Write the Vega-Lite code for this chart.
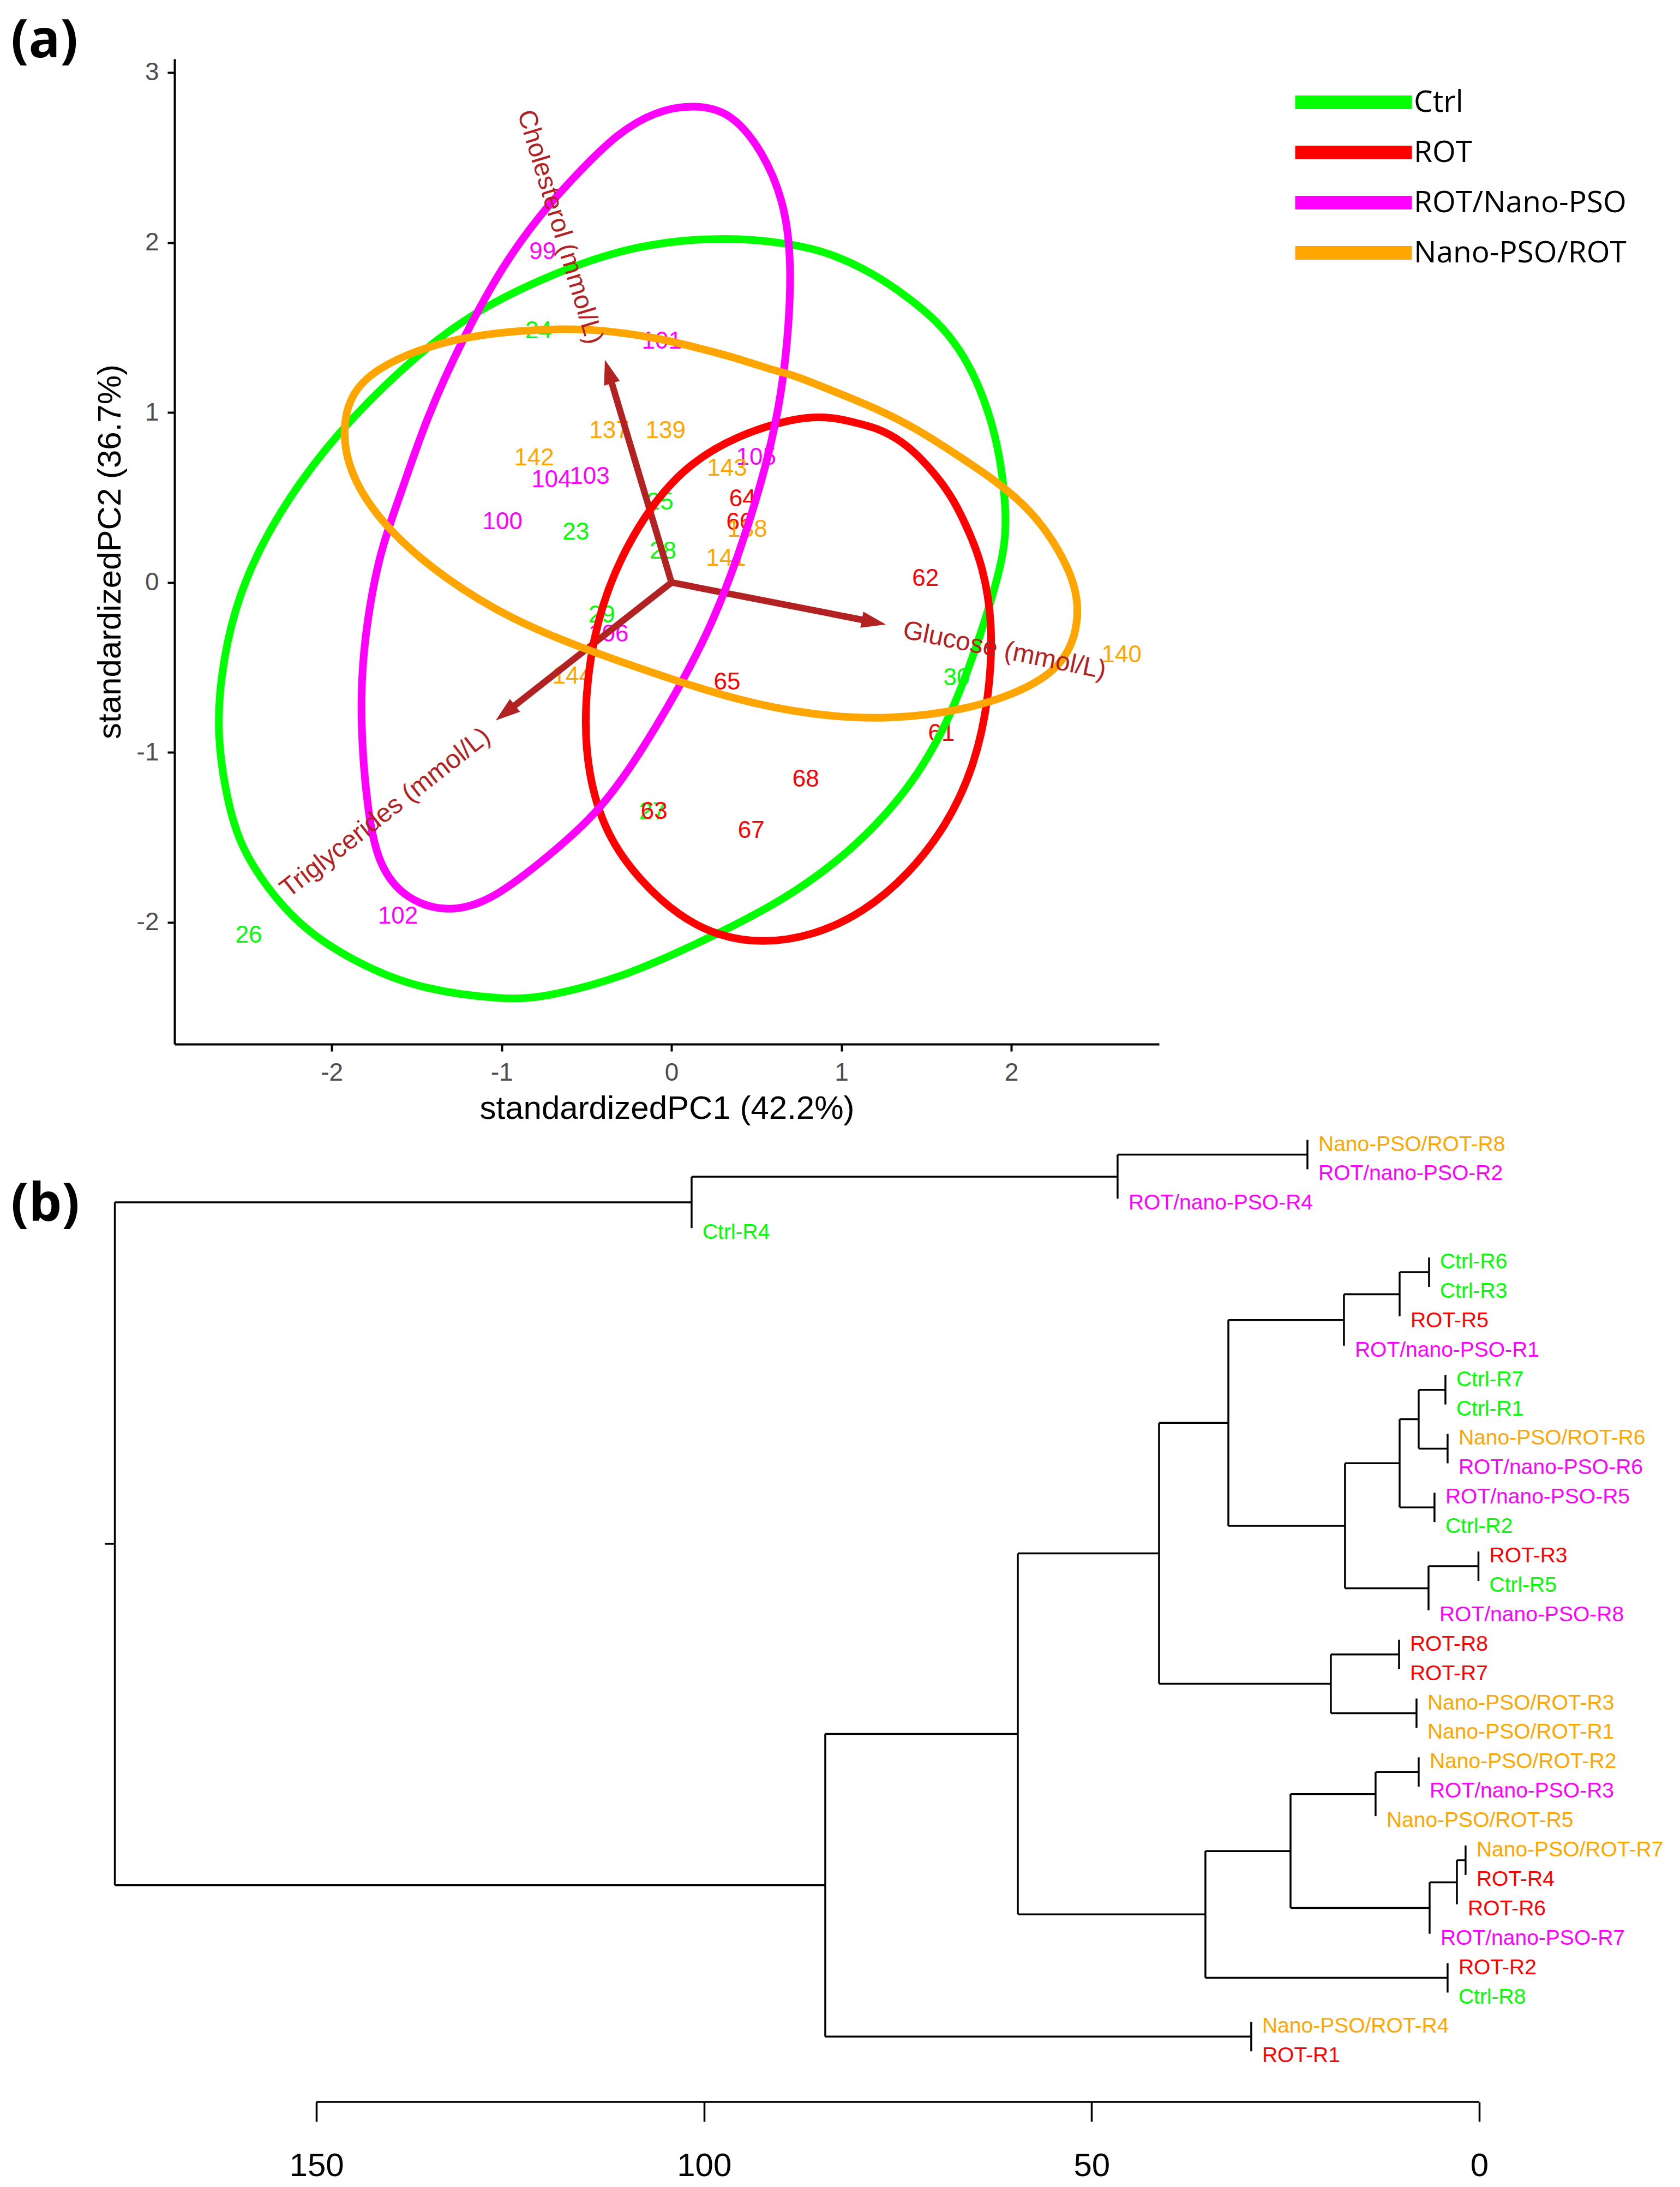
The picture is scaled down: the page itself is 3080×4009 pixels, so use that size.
{
  "$schema": "https://vega.github.io/schema/vega-lite/v6.json",
  "padding": {"left": 20, "top": 28, "right": 0, "bottom": 3},
  "background": "white",
  "config": {"font": "Liberation Sans", "view": {"stroke": null}, "axis": {"grid": false}},
  "spacing": 10,
  "resolve": {"scale": {"color": "independent"}},
  "datasets": {
    "labels": [
      {"g": "ROT/Nano-PSO", "label": "99", "x": -0.759, "y": 1.944},
      {"g": "ROT/Nano-PSO", "label": "100", "x": -0.995, "y": 0.356},
      {"g": "ROT/Nano-PSO", "label": "101", "x": -0.057, "y": 1.416},
      {"g": "ROT/Nano-PSO", "label": "102", "x": -1.61, "y": -1.966},
      {"g": "ROT/Nano-PSO", "label": "103", "x": -0.482, "y": 0.623},
      {"g": "ROT/Nano-PSO", "label": "104", "x": -0.707, "y": 0.603},
      {"g": "ROT/Nano-PSO", "label": "105", "x": 0.498, "y": 0.735},
      {"g": "ROT/Nano-PSO", "label": "106", "x": -0.37, "y": -0.305},
      {"g": "Ctrl", "label": "23", "x": -0.563, "y": 0.295},
      {"g": "Ctrl", "label": "24", "x": -0.782, "y": 1.477},
      {"g": "Ctrl", "label": "25", "x": -0.067, "y": 0.471},
      {"g": "Ctrl", "label": "26", "x": -2.488, "y": -2.078},
      {"g": "Ctrl", "label": "27", "x": -0.112, "y": -1.352},
      {"g": "Ctrl", "label": "28", "x": -0.05, "y": 0.183},
      {"g": "Ctrl", "label": "29", "x": -0.41, "y": -0.195},
      {"g": "Ctrl", "label": "30", "x": 1.679, "y": -0.562},
      {"g": "ROT", "label": "61", "x": 1.589, "y": -0.889},
      {"g": "ROT", "label": "62", "x": 1.495, "y": 0.02},
      {"g": "ROT", "label": "63", "x": -0.102, "y": -1.348},
      {"g": "ROT", "label": "64", "x": 0.418, "y": 0.491},
      {"g": "ROT", "label": "65", "x": 0.327, "y": -0.588},
      {"g": "ROT", "label": "66", "x": 0.401, "y": 0.353},
      {"g": "ROT", "label": "67", "x": 0.469, "y": -1.461},
      {"g": "ROT", "label": "68", "x": 0.79, "y": -1.159},
      {"g": "Nano-PSO/ROT", "label": "137", "x": -0.366, "y": 0.892},
      {"g": "Nano-PSO/ROT", "label": "138", "x": 0.446, "y": 0.311},
      {"g": "Nano-PSO/ROT", "label": "139", "x": -0.035, "y": 0.892},
      {"g": "Nano-PSO/ROT", "label": "140", "x": 2.649, "y": -0.427},
      {"g": "Nano-PSO/ROT", "label": "141", "x": 0.321, "y": 0.141},
      {"g": "Nano-PSO/ROT", "label": "142", "x": -0.809, "y": 0.73},
      {"g": "Nano-PSO/ROT", "label": "143", "x": 0.327, "y": 0.671},
      {"g": "Nano-PSO/ROT", "label": "144", "x": -0.584, "y": -0.552}
    ],
    "arrows": [
      {"var": "Cholesterol (mmol/L)", "ox": 0, "oy": 0, "x": -0.392, "y": 1.31, "bx": -0.358, "by": 1.195, "lx": -0.453, "ly": 1.406},
      {"var": "Glucose (mmol/L)", "ox": 0, "oy": 0, "x": 1.262, "y": -0.247, "bx": 1.144, "by": -0.224, "lx": 1.364, "ly": -0.281},
      {"var": "Triglycerides (mmol/L)", "ox": 0, "oy": 0, "x": -1.035, "y": -0.812, "bx": -0.941, "by": -0.738, "lx": -1.085, "ly": -0.889}
    ],
    "ellipses": [
      {"g": "Ctrl", "i": 1, "x": 0.289, "y": 2.036},
      {"g": "Ctrl", "i": 2, "x": 0.716, "y": 1.994},
      {"g": "Ctrl", "i": 3, "x": 0.949, "y": 1.933},
      {"g": "Ctrl", "i": 4, "x": 1.194, "y": 1.815},
      {"g": "Ctrl", "i": 5, "x": 1.39, "y": 1.68},
      {"g": "Ctrl", "i": 6, "x": 1.563, "y": 1.539},
      {"g": "Ctrl", "i": 7, "x": 1.698, "y": 1.374},
      {"g": "Ctrl", "i": 8, "x": 1.809, "y": 1.165},
      {"g": "Ctrl", "i": 9, "x": 1.894, "y": 0.918},
      {"g": "Ctrl", "i": 10, "x": 1.944, "y": 0.674},
      {"g": "Ctrl", "i": 11, "x": 1.968, "y": 0.427},
      {"g": "Ctrl", "i": 12, "x": 1.966, "y": 0.283},
      {"g": "Ctrl", "i": 13, "x": 1.945, "y": 0.106},
      {"g": "Ctrl", "i": 14, "x": 1.803, "y": -0.367},
      {"g": "Ctrl", "i": 15, "x": 1.623, "y": -0.84},
      {"g": "Ctrl", "i": 16, "x": 1.396, "y": -1.223},
      {"g": "Ctrl", "i": 17, "x": 1.059, "y": -1.583},
      {"g": "Ctrl", "i": 18, "x": 0.655, "y": -1.875},
      {"g": "Ctrl", "i": 19, "x": 0.204, "y": -2.101},
      {"g": "Ctrl", "i": 20, "x": -0.292, "y": -2.327},
      {"g": "Ctrl", "i": 21, "x": -0.742, "y": -2.44},
      {"g": "Ctrl", "i": 22, "x": -0.979, "y": -2.457},
      {"g": "Ctrl", "i": 23, "x": -1.474, "y": -2.394},
      {"g": "Ctrl", "i": 24, "x": -1.814, "y": -2.259},
      {"g": "Ctrl", "i": 25, "x": -2.151, "y": -2.056},
      {"g": "Ctrl", "i": 26, "x": -2.376, "y": -1.807},
      {"g": "Ctrl", "i": 27, "x": -2.546, "y": -1.538},
      {"g": "Ctrl", "i": 28, "x": -2.623, "y": -1.246},
      {"g": "Ctrl", "i": 29, "x": -2.673, "y": -0.908},
      {"g": "Ctrl", "i": 30, "x": -2.658, "y": -0.57},
      {"g": "Ctrl", "i": 31, "x": -2.575, "y": -0.15},
      {"g": "Ctrl", "i": 32, "x": -2.42, "y": 0.22},
      {"g": "Ctrl", "i": 33, "x": -2.2, "y": 0.58},
      {"g": "Ctrl", "i": 34, "x": -1.897, "y": 0.961},
      {"g": "Ctrl", "i": 35, "x": -1.446, "y": 1.39},
      {"g": "Ctrl", "i": 36, "x": -1.085, "y": 1.637},
      {"g": "Ctrl", "i": 37, "x": -0.636, "y": 1.843},
      {"g": "Ctrl", "i": 38, "x": -0.209, "y": 1.985},
      {"g": "ROT", "i": 1, "x": 0.825, "y": 0.998},
      {"g": "ROT", "i": 2, "x": 1.072, "y": 0.944},
      {"g": "ROT", "i": 3, "x": 1.219, "y": 0.906},
      {"g": "ROT", "i": 4, "x": 1.354, "y": 0.833},
      {"g": "ROT", "i": 5, "x": 1.464, "y": 0.735},
      {"g": "ROT", "i": 6, "x": 1.563, "y": 0.624},
      {"g": "ROT", "i": 7, "x": 1.661, "y": 0.489},
      {"g": "ROT", "i": 8, "x": 1.759, "y": 0.283},
      {"g": "ROT", "i": 9, "x": 1.83, "y": 0.1},
      {"g": "ROT", "i": 10, "x": 1.893, "y": -0.231},
      {"g": "ROT", "i": 11, "x": 1.871, "y": -0.683},
      {"g": "ROT", "i": 12, "x": 1.781, "y": -1.088},
      {"g": "ROT", "i": 13, "x": 1.623, "y": -1.425},
      {"g": "ROT", "i": 14, "x": 1.398, "y": -1.717},
      {"g": "ROT", "i": 15, "x": 1.127, "y": -1.944},
      {"g": "ROT", "i": 16, "x": 0.835, "y": -2.079},
      {"g": "ROT", "i": 17, "x": 0.53, "y": -2.124},
      {"g": "ROT", "i": 18, "x": 0.272, "y": -2.079},
      {"g": "ROT", "i": 19, "x": 0.047, "y": -1.966},
      {"g": "ROT", "i": 20, "x": -0.18, "y": -1.762},
      {"g": "ROT", "i": 21, "x": -0.382, "y": -1.493},
      {"g": "ROT", "i": 22, "x": -0.494, "y": -1.133},
      {"g": "ROT", "i": 23, "x": -0.517, "y": -0.727},
      {"g": "ROT", "i": 24, "x": -0.449, "y": -0.231},
      {"g": "ROT", "i": 25, "x": -0.276, "y": 0.218},
      {"g": "ROT", "i": 26, "x": 0.018, "y": 0.645},
      {"g": "ROT", "i": 27, "x": 0.379, "y": 0.87},
      {"g": "ROT/Nano-PSO", "i": 1, "x": 0.141, "y": 2.814},
      {"g": "ROT/Nano-PSO", "i": 2, "x": 0.356, "y": 2.764},
      {"g": "ROT/Nano-PSO", "i": 3, "x": 0.536, "y": 2.537},
      {"g": "ROT/Nano-PSO", "i": 4, "x": 0.66, "y": 2.251},
      {"g": "ROT/Nano-PSO", "i": 5, "x": 0.705, "y": 1.923},
      {"g": "ROT/Nano-PSO", "i": 6, "x": 0.693, "y": 1.515},
      {"g": "ROT/Nano-PSO", "i": 7, "x": 0.648, "y": 1.104},
      {"g": "ROT/Nano-PSO", "i": 8, "x": 0.561, "y": 0.695},
      {"g": "ROT/Nano-PSO", "i": 9, "x": 0.421, "y": 0.232},
      {"g": "ROT/Nano-PSO", "i": 10, "x": 0.243, "y": -0.243},
      {"g": "ROT/Nano-PSO", "i": 11, "x": 0.035, "y": -0.638},
      {"g": "ROT/Nano-PSO", "i": 12, "x": -0.18, "y": -0.998},
      {"g": "ROT/Nano-PSO", "i": 13, "x": -0.427, "y": -1.358},
      {"g": "ROT/Nano-PSO", "i": 14, "x": -0.799, "y": -1.673},
      {"g": "ROT/Nano-PSO", "i": 15, "x": -1.069, "y": -1.875},
      {"g": "ROT/Nano-PSO", "i": 16, "x": -1.317, "y": -1.944},
      {"g": "ROT/Nano-PSO", "i": 17, "x": -1.565, "y": -1.865},
      {"g": "ROT/Nano-PSO", "i": 18, "x": -1.722, "y": -1.673},
      {"g": "ROT/Nano-PSO", "i": 19, "x": -1.79, "y": -1.358},
      {"g": "ROT/Nano-PSO", "i": 20, "x": -1.835, "y": -0.795},
      {"g": "ROT/Nano-PSO", "i": 21, "x": -1.813, "y": -0.343},
      {"g": "ROT/Nano-PSO", "i": 22, "x": -1.72, "y": 0.18},
      {"g": "ROT/Nano-PSO", "i": 23, "x": -1.6, "y": 0.5},
      {"g": "ROT/Nano-PSO", "i": 24, "x": -1.446, "y": 0.961},
      {"g": "ROT/Nano-PSO", "i": 25, "x": -1.221, "y": 1.452},
      {"g": "ROT/Nano-PSO", "i": 26, "x": -0.995, "y": 1.862},
      {"g": "ROT/Nano-PSO", "i": 27, "x": -0.77, "y": 2.17},
      {"g": "ROT/Nano-PSO", "i": 28, "x": -0.546, "y": 2.415},
      {"g": "ROT/Nano-PSO", "i": 29, "x": -0.321, "y": 2.64},
      {"g": "ROT/Nano-PSO", "i": 30, "x": -0.095, "y": 2.774},
      {"g": "Nano-PSO/ROT", "i": 1, "x": -0.726, "y": 1.493},
      {"g": "Nano-PSO/ROT", "i": 2, "x": -0.433, "y": 1.49},
      {"g": "Nano-PSO/ROT", "i": 3, "x": -0.095, "y": 1.44},
      {"g": "Nano-PSO/ROT", "i": 4, "x": 0.063, "y": 1.403},
      {"g": "Nano-PSO/ROT", "i": 5, "x": 0.356, "y": 1.33},
      {"g": "Nano-PSO/ROT", "i": 6, "x": 0.626, "y": 1.239},
      {"g": "Nano-PSO/ROT", "i": 7, "x": 0.703, "y": 1.226},
      {"g": "Nano-PSO/ROT", "i": 8, "x": 0.949, "y": 1.127},
      {"g": "Nano-PSO/ROT", "i": 9, "x": 1.219, "y": 1.018},
      {"g": "Nano-PSO/ROT", "i": 10, "x": 1.44, "y": 0.906},
      {"g": "Nano-PSO/ROT", "i": 11, "x": 1.685, "y": 0.748},
      {"g": "Nano-PSO/ROT", "i": 12, "x": 1.87, "y": 0.624},
      {"g": "Nano-PSO/ROT", "i": 13, "x": 2.029, "y": 0.501},
      {"g": "Nano-PSO/ROT", "i": 14, "x": 2.177, "y": 0.353},
      {"g": "Nano-PSO/ROT", "i": 15, "x": 2.36, "y": 0.06},
      {"g": "Nano-PSO/ROT", "i": 16, "x": 2.411, "y": -0.2},
      {"g": "Nano-PSO/ROT", "i": 17, "x": 2.321, "y": -0.48},
      {"g": "Nano-PSO/ROT", "i": 18, "x": 2.074, "y": -0.638},
      {"g": "Nano-PSO/ROT", "i": 19, "x": 1.736, "y": -0.75},
      {"g": "Nano-PSO/ROT", "i": 20, "x": 1.284, "y": -0.808},
      {"g": "Nano-PSO/ROT", "i": 21, "x": 0.835, "y": -0.783},
      {"g": "Nano-PSO/ROT", "i": 22, "x": 0.384, "y": -0.693},
      {"g": "Nano-PSO/ROT", "i": 23, "x": -0.067, "y": -0.547},
      {"g": "Nano-PSO/ROT", "i": 24, "x": -0.517, "y": -0.39},
      {"g": "Nano-PSO/ROT", "i": 25, "x": -0.933, "y": -0.223},
      {"g": "Nano-PSO/ROT", "i": 26, "x": -1.333, "y": 0.019},
      {"g": "Nano-PSO/ROT", "i": 27, "x": -1.671, "y": 0.306},
      {"g": "Nano-PSO/ROT", "i": 28, "x": -1.875, "y": 0.594},
      {"g": "Nano-PSO/ROT", "i": 29, "x": -1.942, "y": 0.859},
      {"g": "Nano-PSO/ROT", "i": 30, "x": -1.897, "y": 1.104},
      {"g": "Nano-PSO/ROT", "i": 31, "x": -1.739, "y": 1.259},
      {"g": "Nano-PSO/ROT", "i": 32, "x": -1.446, "y": 1.39},
      {"g": "Nano-PSO/ROT", "i": 33, "x": -1.108, "y": 1.464}
    ],
    "segments": [
      {"x": 22.16, "x2": 22.16, "y": 1, "y2": 2},
      {"x": 46.65, "x2": 46.65, "y": 1.5, "y2": 3},
      {"x": 46.65, "x2": 22.16, "y": 1.5, "y2": 1.5},
      {"x": 101.6, "x2": 101.6, "y": 2.25, "y2": 4},
      {"x": 101.6, "x2": 46.65, "y": 2.25, "y2": 2.25},
      {"x": 6.47, "x2": 6.47, "y": 5, "y2": 6},
      {"x": 10.27, "x2": 10.27, "y": 5.5, "y2": 7},
      {"x": 10.27, "x2": 6.47, "y": 5.5, "y2": 5.5},
      {"x": 17.45, "x2": 17.45, "y": 6.25, "y2": 8},
      {"x": 17.45, "x2": 10.27, "y": 6.25, "y2": 6.25},
      {"x": 4.36, "x2": 4.36, "y": 9, "y2": 10},
      {"x": 4.08, "x2": 4.08, "y": 11, "y2": 12},
      {"x": 7.81, "x2": 7.81, "y": 9.5, "y2": 11.5},
      {"x": 7.81, "x2": 4.36, "y": 9.5, "y2": 9.5},
      {"x": 7.81, "x2": 4.08, "y": 11.5, "y2": 11.5},
      {"x": 5.77, "x2": 5.77, "y": 13, "y2": 14},
      {"x": 10.27, "x2": 10.27, "y": 10.5, "y2": 13.5},
      {"x": 10.27, "x2": 7.81, "y": 10.5, "y2": 10.5},
      {"x": 10.27, "x2": 5.77, "y": 13.5, "y2": 13.5},
      {"x": 0.1, "x2": 0.1, "y": 15, "y2": 16},
      {"x": 6.54, "x2": 6.54, "y": 15.5, "y2": 17},
      {"x": 6.54, "x2": 0.1, "y": 15.5, "y2": 15.5},
      {"x": 17.31, "x2": 17.31, "y": 12, "y2": 16.25},
      {"x": 17.31, "x2": 10.27, "y": 12, "y2": 12},
      {"x": 17.31, "x2": 6.54, "y": 16.25, "y2": 16.25},
      {"x": 32.36, "x2": 32.36, "y": 7.125, "y2": 14.125},
      {"x": 32.36, "x2": 17.45, "y": 7.125, "y2": 7.125},
      {"x": 32.36, "x2": 17.31, "y": 14.125, "y2": 14.125},
      {"x": 10.34, "x2": 10.34, "y": 18, "y2": 19},
      {"x": 8.09, "x2": 8.09, "y": 20, "y2": 21},
      {"x": 19.14, "x2": 19.14, "y": 18.5, "y2": 20.5},
      {"x": 19.14, "x2": 10.34, "y": 18.5, "y2": 18.5},
      {"x": 19.14, "x2": 8.09, "y": 20.5, "y2": 20.5},
      {"x": 41.3, "x2": 41.3, "y": 10.625, "y2": 19.5},
      {"x": 41.3, "x2": 32.36, "y": 10.625, "y2": 10.625},
      {"x": 41.3, "x2": 19.14, "y": 19.5, "y2": 19.5},
      {"x": 7.81, "x2": 7.81, "y": 22, "y2": 23},
      {"x": 13.37, "x2": 13.37, "y": 22.5, "y2": 24},
      {"x": 13.37, "x2": 7.81, "y": 22.5, "y2": 22.5},
      {"x": 1.76, "x2": 1.76, "y": 25, "y2": 26},
      {"x": 2.88, "x2": 2.88, "y": 25.5, "y2": 27},
      {"x": 2.88, "x2": 1.76, "y": 25.5, "y2": 25.5},
      {"x": 6.4, "x2": 6.4, "y": 26.25, "y2": 28},
      {"x": 6.4, "x2": 2.88, "y": 26.25, "y2": 26.25},
      {"x": 24.34, "x2": 24.34, "y": 23.25, "y2": 27.125},
      {"x": 24.34, "x2": 13.37, "y": 23.25, "y2": 23.25},
      {"x": 24.34, "x2": 6.4, "y": 27.125, "y2": 27.125},
      {"x": 4.08, "x2": 4.08, "y": 29, "y2": 30},
      {"x": 35.32, "x2": 35.32, "y": 25.1875, "y2": 29.5},
      {"x": 35.32, "x2": 24.34, "y": 25.1875, "y2": 25.1875},
      {"x": 35.32, "x2": 4.08, "y": 29.5, "y2": 29.5},
      {"x": 59.52, "x2": 59.52, "y": 15.0625, "y2": 27.34375},
      {"x": 59.52, "x2": 41.3, "y": 15.0625, "y2": 15.0625},
      {"x": 59.52, "x2": 35.32, "y": 27.34375, "y2": 27.34375},
      {"x": 29.41, "x2": 29.41, "y": 31, "y2": 32},
      {"x": 84.36, "x2": 84.36, "y": 21.2031, "y2": 31.5},
      {"x": 84.36, "x2": 59.52, "y": 21.2031, "y2": 21.2031},
      {"x": 84.36, "x2": 29.41, "y": 31.5, "y2": 31.5},
      {"x": 176, "x2": 176, "y": 3.125, "y2": 26.3516},
      {"x": 176, "x2": 101.6, "y": 3.125, "y2": 3.125},
      {"x": 176, "x2": 84.36, "y": 26.3516, "y2": 26.3516},
      {"x": 177.3, "x2": 176, "y": 14.7383, "y2": 14.7383}
    ],
    "leaves": [
      {"label": "Nano-PSO/ROT-R8", "g": "Nano-PSO/ROT", "h": 22.16, "pos": 1},
      {"label": "ROT/nano-PSO-R2", "g": "ROT/Nano-PSO", "h": 22.16, "pos": 2},
      {"label": "ROT/nano-PSO-R4", "g": "ROT/Nano-PSO", "h": 46.65, "pos": 3},
      {"label": "Ctrl-R4", "g": "Ctrl", "h": 101.6, "pos": 4},
      {"label": "Ctrl-R6", "g": "Ctrl", "h": 6.47, "pos": 5},
      {"label": "Ctrl-R3", "g": "Ctrl", "h": 6.47, "pos": 6},
      {"label": "ROT-R5", "g": "ROT", "h": 10.27, "pos": 7},
      {"label": "ROT/nano-PSO-R1", "g": "ROT/Nano-PSO", "h": 17.45, "pos": 8},
      {"label": "Ctrl-R7", "g": "Ctrl", "h": 4.36, "pos": 9},
      {"label": "Ctrl-R1", "g": "Ctrl", "h": 4.36, "pos": 10},
      {"label": "Nano-PSO/ROT-R6", "g": "Nano-PSO/ROT", "h": 4.08, "pos": 11},
      {"label": "ROT/nano-PSO-R6", "g": "ROT/Nano-PSO", "h": 4.08, "pos": 12},
      {"label": "ROT/nano-PSO-R5", "g": "ROT/Nano-PSO", "h": 5.77, "pos": 13},
      {"label": "Ctrl-R2", "g": "Ctrl", "h": 5.77, "pos": 14},
      {"label": "ROT-R3", "g": "ROT", "h": 0.1, "pos": 15},
      {"label": "Ctrl-R5", "g": "Ctrl", "h": 0.1, "pos": 16},
      {"label": "ROT/nano-PSO-R8", "g": "ROT/Nano-PSO", "h": 6.54, "pos": 17},
      {"label": "ROT-R8", "g": "ROT", "h": 10.34, "pos": 18},
      {"label": "ROT-R7", "g": "ROT", "h": 10.34, "pos": 19},
      {"label": "Nano-PSO/ROT-R3", "g": "Nano-PSO/ROT", "h": 8.09, "pos": 20},
      {"label": "Nano-PSO/ROT-R1", "g": "Nano-PSO/ROT", "h": 8.09, "pos": 21},
      {"label": "Nano-PSO/ROT-R2", "g": "Nano-PSO/ROT", "h": 7.81, "pos": 22},
      {"label": "ROT/nano-PSO-R3", "g": "ROT/Nano-PSO", "h": 7.81, "pos": 23},
      {"label": "Nano-PSO/ROT-R5", "g": "Nano-PSO/ROT", "h": 13.37, "pos": 24},
      {"label": "Nano-PSO/ROT-R7", "g": "Nano-PSO/ROT", "h": 1.76, "pos": 25},
      {"label": "ROT-R4", "g": "ROT", "h": 1.76, "pos": 26},
      {"label": "ROT-R6", "g": "ROT", "h": 2.88, "pos": 27},
      {"label": "ROT/nano-PSO-R7", "g": "ROT/Nano-PSO", "h": 6.4, "pos": 28},
      {"label": "ROT-R2", "g": "ROT", "h": 4.08, "pos": 29},
      {"label": "Ctrl-R8", "g": "Ctrl", "h": 4.08, "pos": 30},
      {"label": "Nano-PSO/ROT-R4", "g": "Nano-PSO/ROT", "h": 29.41, "pos": 31},
      {"label": "ROT-R1", "g": "ROT", "h": 29.41, "pos": 32}
    ]
  },
  "vconcat": [
    {
      "width": 1805,
      "height": 1806,
      "title": {"text": "(a)", "anchor": "start", "frame": "group", "orient": "top", "dx": -300, "offset": -17, "fontSize": 96, "font": "Open Sans", "fontWeight": "bold", "color": "black"},
      "resolve": {"legend": {"color": "independent"}},
      "layer": [
        {
          "data": {"name": "labels"},
          "mark": {"type": "text", "fontSize": 44, "align": "center", "baseline": "middle"},
          "encoding": {
            "x": {"field": "x", "type": "quantitative", "scale": {"domain": [-2.925, 2.87], "nice": false, "zero": false},
              "axis": {"values": [-2, -1, 0, 1, 2], "labelExpr": "'' + datum.value", "title": "standardizedPC1 (42.2%)", "grid": false, "domainColor": "black", "domainWidth": 4, "tickColor": "black", "tickWidth": 4, "tickSize": 13, "labelFontSize": 46, "labelColor": "#4D4D4D", "labelPadding": 17, "titleFontSize": 60, "titleColor": "black", "titleFontWeight": "normal", "titlePadding": 14, "labelFlush": false}},
            "y": {"field": "y", "type": "quantitative", "scale": {"domain": [-2.716, 3.08], "nice": false, "zero": false},
              "axis": {"values": [-2, -1, 0, 1, 2, 3], "labelExpr": "'' + datum.value", "title": "standardizedPC2 (36.7%)", "grid": false, "domainColor": "black", "domainWidth": 4, "tickColor": "black", "tickWidth": 4, "tickSize": 13, "labelFontSize": 46, "labelColor": "#4D4D4D", "labelPadding": 16, "titleFontSize": 60, "titleColor": "black", "titleFontWeight": "normal", "titlePadding": 17, "labelFlush": false}},
            "text": {"field": "label", "type": "nominal"},
            "color": {"field": "g", "type": "nominal", "scale": {"domain": ["Ctrl", "ROT", "ROT/Nano-PSO", "Nano-PSO/ROT"], "range": ["#00FF00", "#FF0000", "#FF00FF", "#FFA500"]}, "legend": null}
          }
        },
        {
          "data": {"name": "arrows"},
          "mark": {"type": "rule", "color": "#B22222", "strokeWidth": 12, "strokeCap": "butt"},
          "encoding": {
            "x": {"field": "ox", "type": "quantitative", "scale": {"domain": [-2.925, 2.87], "nice": false, "zero": false},
              "axis": {"values": [-2, -1, 0, 1, 2], "labelExpr": "'' + datum.value", "title": "standardizedPC1 (42.2%)", "grid": false, "domainColor": "black", "domainWidth": 4, "tickColor": "black", "tickWidth": 4, "tickSize": 13, "labelFontSize": 46, "labelColor": "#4D4D4D", "labelPadding": 17, "titleFontSize": 60, "titleColor": "black", "titleFontWeight": "normal", "titlePadding": 14, "labelFlush": false}},
            "y": {"field": "oy", "type": "quantitative", "scale": {"domain": [-2.716, 3.08], "nice": false, "zero": false},
              "axis": {"values": [-2, -1, 0, 1, 2, 3], "labelExpr": "'' + datum.value", "title": "standardizedPC2 (36.7%)", "grid": false, "domainColor": "black", "domainWidth": 4, "tickColor": "black", "tickWidth": 4, "tickSize": 13, "labelFontSize": 46, "labelColor": "#4D4D4D", "labelPadding": 16, "titleFontSize": 60, "titleColor": "black", "titleFontWeight": "normal", "titlePadding": 17, "labelFlush": false}},
            "x2": {"field": "bx"},
            "y2": {"field": "by"}
          }
        },
        {
          "data": {"name": "arrows"},
          "transform": [{"filter": "datum.var == 'Cholesterol (mmol/L)'"}],
          "mark": {"type": "point", "shape": "M0,0L-0.667,2L0.667,2Z", "size": 2025, "filled": true, "opacity": 1, "color": "#B22222", "angle": -16.66},
          "encoding": {
            "x": {"field": "x", "type": "quantitative", "scale": {"domain": [-2.925, 2.87], "nice": false, "zero": false},
              "axis": {"values": [-2, -1, 0, 1, 2], "labelExpr": "'' + datum.value", "title": "standardizedPC1 (42.2%)", "grid": false, "domainColor": "black", "domainWidth": 4, "tickColor": "black", "tickWidth": 4, "tickSize": 13, "labelFontSize": 46, "labelColor": "#4D4D4D", "labelPadding": 17, "titleFontSize": 60, "titleColor": "black", "titleFontWeight": "normal", "titlePadding": 14, "labelFlush": false}},
            "y": {"field": "y", "type": "quantitative", "scale": {"domain": [-2.716, 3.08], "nice": false, "zero": false},
              "axis": {"values": [-2, -1, 0, 1, 2, 3], "labelExpr": "'' + datum.value", "title": "standardizedPC2 (36.7%)", "grid": false, "domainColor": "black", "domainWidth": 4, "tickColor": "black", "tickWidth": 4, "tickSize": 13, "labelFontSize": 46, "labelColor": "#4D4D4D", "labelPadding": 16, "titleFontSize": 60, "titleColor": "black", "titleFontWeight": "normal", "titlePadding": 17, "labelFlush": false}}
          }
        },
        {
          "data": {"name": "arrows"},
          "transform": [{"filter": "datum.var == 'Glucose (mmol/L)'"}],
          "mark": {"type": "point", "shape": "M0,0L-0.667,2L0.667,2Z", "size": 2025, "filled": true, "opacity": 1, "color": "#B22222", "angle": 101.07},
          "encoding": {
            "x": {"field": "x", "type": "quantitative", "scale": {"domain": [-2.925, 2.87], "nice": false, "zero": false},
              "axis": {"values": [-2, -1, 0, 1, 2], "labelExpr": "'' + datum.value", "title": "standardizedPC1 (42.2%)", "grid": false, "domainColor": "black", "domainWidth": 4, "tickColor": "black", "tickWidth": 4, "tickSize": 13, "labelFontSize": 46, "labelColor": "#4D4D4D", "labelPadding": 17, "titleFontSize": 60, "titleColor": "black", "titleFontWeight": "normal", "titlePadding": 14, "labelFlush": false}},
            "y": {"field": "y", "type": "quantitative", "scale": {"domain": [-2.716, 3.08], "nice": false, "zero": false},
              "axis": {"values": [-2, -1, 0, 1, 2, 3], "labelExpr": "'' + datum.value", "title": "standardizedPC2 (36.7%)", "grid": false, "domainColor": "black", "domainWidth": 4, "tickColor": "black", "tickWidth": 4, "tickSize": 13, "labelFontSize": 46, "labelColor": "#4D4D4D", "labelPadding": 16, "titleFontSize": 60, "titleColor": "black", "titleFontWeight": "normal", "titlePadding": 17, "labelFlush": false}}
          }
        },
        {
          "data": {"name": "arrows"},
          "transform": [{"filter": "datum.var == 'Triglycerides (mmol/L)'"}],
          "mark": {"type": "point", "shape": "M0,0L-0.667,2L0.667,2Z", "size": 2025, "filled": true, "opacity": 1, "color": "#B22222", "angle": -128.11},
          "encoding": {
            "x": {"field": "x", "type": "quantitative", "scale": {"domain": [-2.925, 2.87], "nice": false, "zero": false},
              "axis": {"values": [-2, -1, 0, 1, 2], "labelExpr": "'' + datum.value", "title": "standardizedPC1 (42.2%)", "grid": false, "domainColor": "black", "domainWidth": 4, "tickColor": "black", "tickWidth": 4, "tickSize": 13, "labelFontSize": 46, "labelColor": "#4D4D4D", "labelPadding": 17, "titleFontSize": 60, "titleColor": "black", "titleFontWeight": "normal", "titlePadding": 14, "labelFlush": false}},
            "y": {"field": "y", "type": "quantitative", "scale": {"domain": [-2.716, 3.08], "nice": false, "zero": false},
              "axis": {"values": [-2, -1, 0, 1, 2, 3], "labelExpr": "'' + datum.value", "title": "standardizedPC2 (36.7%)", "grid": false, "domainColor": "black", "domainWidth": 4, "tickColor": "black", "tickWidth": 4, "tickSize": 13, "labelFontSize": 46, "labelColor": "#4D4D4D", "labelPadding": 16, "titleFontSize": 60, "titleColor": "black", "titleFontWeight": "normal", "titlePadding": 17, "labelFlush": false}}
          }
        },
        {
          "data": {"name": "ellipses"},
          "mark": {"type": "line", "strokeWidth": 14, "interpolate": "basis-closed"},
          "encoding": {
            "x": {"field": "x", "type": "quantitative", "scale": {"domain": [-2.925, 2.87], "nice": false, "zero": false},
              "axis": {"values": [-2, -1, 0, 1, 2], "labelExpr": "'' + datum.value", "title": "standardizedPC1 (42.2%)", "grid": false, "domainColor": "black", "domainWidth": 4, "tickColor": "black", "tickWidth": 4, "tickSize": 13, "labelFontSize": 46, "labelColor": "#4D4D4D", "labelPadding": 17, "titleFontSize": 60, "titleColor": "black", "titleFontWeight": "normal", "titlePadding": 14, "labelFlush": false}},
            "y": {"field": "y", "type": "quantitative", "scale": {"domain": [-2.716, 3.08], "nice": false, "zero": false},
              "axis": {"values": [-2, -1, 0, 1, 2, 3], "labelExpr": "'' + datum.value", "title": "standardizedPC2 (36.7%)", "grid": false, "domainColor": "black", "domainWidth": 4, "tickColor": "black", "tickWidth": 4, "tickSize": 13, "labelFontSize": 46, "labelColor": "#4D4D4D", "labelPadding": 16, "titleFontSize": 60, "titleColor": "black", "titleFontWeight": "normal", "titlePadding": 17, "labelFlush": false}},
            "order": {"field": "i", "type": "quantitative"},
            "color": {"field": "g", "type": "nominal", "scale": {"domain": ["Ctrl", "ROT", "ROT/Nano-PSO", "Nano-PSO/ROT"], "range": ["#00FF00", "#FF0000", "#FF00FF", "#FFA500"]},
              "legend": {"orient": "none", "legendX": 2122, "legendY": 40, "title": null, "symbolType": "M-4,0H4", "symbolSize": 2862, "symbolStrokeWidth": 25, "labelFont": "Open Sans", "labelFontSize": 55, "labelColor": "black", "labelOffset": 71, "rowPadding": -9, "padding": 0, "labelLimit": 0,
                "encode": {"symbols": {"update": {"strokeWidth": {"value": 25}, "fill": {"value": "transparent"}}}}}}
          }
        },
        {
          "data": {"name": "arrows"},
          "transform": [{"filter": "datum.var == 'Cholesterol (mmol/L)'"}],
          "mark": {"type": "text", "fontSize": 48, "color": "#B22222", "align": "right", "baseline": "middle", "angle": 73.3},
          "encoding": {
            "x": {"field": "lx", "type": "quantitative", "scale": {"domain": [-2.925, 2.87], "nice": false, "zero": false},
              "axis": {"values": [-2, -1, 0, 1, 2], "labelExpr": "'' + datum.value", "title": "standardizedPC1 (42.2%)", "grid": false, "domainColor": "black", "domainWidth": 4, "tickColor": "black", "tickWidth": 4, "tickSize": 13, "labelFontSize": 46, "labelColor": "#4D4D4D", "labelPadding": 17, "titleFontSize": 60, "titleColor": "black", "titleFontWeight": "normal", "titlePadding": 14, "labelFlush": false}},
            "y": {"field": "ly", "type": "quantitative", "scale": {"domain": [-2.716, 3.08], "nice": false, "zero": false},
              "axis": {"values": [-2, -1, 0, 1, 2, 3], "labelExpr": "'' + datum.value", "title": "standardizedPC2 (36.7%)", "grid": false, "domainColor": "black", "domainWidth": 4, "tickColor": "black", "tickWidth": 4, "tickSize": 13, "labelFontSize": 46, "labelColor": "#4D4D4D", "labelPadding": 16, "titleFontSize": 60, "titleColor": "black", "titleFontWeight": "normal", "titlePadding": 17, "labelFlush": false}},
            "text": {"field": "var", "type": "nominal"}
          }
        },
        {
          "data": {"name": "arrows"},
          "transform": [{"filter": "datum.var == 'Glucose (mmol/L)'"}],
          "mark": {"type": "text", "fontSize": 48, "color": "#B22222", "align": "left", "baseline": "middle", "angle": 11.5},
          "encoding": {
            "x": {"field": "lx", "type": "quantitative", "scale": {"domain": [-2.925, 2.87], "nice": false, "zero": false},
              "axis": {"values": [-2, -1, 0, 1, 2], "labelExpr": "'' + datum.value", "title": "standardizedPC1 (42.2%)", "grid": false, "domainColor": "black", "domainWidth": 4, "tickColor": "black", "tickWidth": 4, "tickSize": 13, "labelFontSize": 46, "labelColor": "#4D4D4D", "labelPadding": 17, "titleFontSize": 60, "titleColor": "black", "titleFontWeight": "normal", "titlePadding": 14, "labelFlush": false}},
            "y": {"field": "ly", "type": "quantitative", "scale": {"domain": [-2.716, 3.08], "nice": false, "zero": false},
              "axis": {"values": [-2, -1, 0, 1, 2, 3], "labelExpr": "'' + datum.value", "title": "standardizedPC2 (36.7%)", "grid": false, "domainColor": "black", "domainWidth": 4, "tickColor": "black", "tickWidth": 4, "tickSize": 13, "labelFontSize": 46, "labelColor": "#4D4D4D", "labelPadding": 16, "titleFontSize": 60, "titleColor": "black", "titleFontWeight": "normal", "titlePadding": 17, "labelFlush": false}},
            "text": {"field": "var", "type": "nominal"}
          }
        },
        {
          "data": {"name": "arrows"},
          "transform": [{"filter": "datum.var == 'Triglycerides (mmol/L)'"}],
          "mark": {"type": "text", "fontSize": 48, "color": "#B22222", "align": "right", "baseline": "middle", "angle": -38},
          "encoding": {
            "x": {"field": "lx", "type": "quantitative", "scale": {"domain": [-2.925, 2.87], "nice": false, "zero": false},
              "axis": {"values": [-2, -1, 0, 1, 2], "labelExpr": "'' + datum.value", "title": "standardizedPC1 (42.2%)", "grid": false, "domainColor": "black", "domainWidth": 4, "tickColor": "black", "tickWidth": 4, "tickSize": 13, "labelFontSize": 46, "labelColor": "#4D4D4D", "labelPadding": 17, "titleFontSize": 60, "titleColor": "black", "titleFontWeight": "normal", "titlePadding": 14, "labelFlush": false}},
            "y": {"field": "ly", "type": "quantitative", "scale": {"domain": [-2.716, 3.08], "nice": false, "zero": false},
              "axis": {"values": [-2, -1, 0, 1, 2, 3], "labelExpr": "'' + datum.value", "title": "standardizedPC2 (36.7%)", "grid": false, "domainColor": "black", "domainWidth": 4, "tickColor": "black", "tickWidth": 4, "tickSize": 13, "labelFontSize": 46, "labelColor": "#4D4D4D", "labelPadding": 16, "titleFontSize": 60, "titleColor": "black", "titleFontWeight": "normal", "titlePadding": 17, "labelFlush": false}},
            "text": {"field": "var", "type": "nominal"}
          }
        }
      ]
    },
    {
      "width": 2760,
      "height": 1781,
      "title": {"text": "(b)", "anchor": "start", "frame": "group", "orient": "top", "dx": -300, "offset": -186, "fontSize": 96, "font": "Open Sans", "fontWeight": "bold", "color": "black"},
      "layer": [
        {
          "data": {"name": "segments"},
          "mark": {"type": "rule", "color": "black", "strokeWidth": 3.5},
          "encoding": {
            "x": {"field": "x", "type": "quantitative", "scale": {"domain": [-25.9, 168.3], "reverse": true, "nice": false, "zero": false},
              "axis": {"values": [0, 50, 100, 150], "title": null, "domain": false, "grid": false, "tickColor": "black", "tickWidth": 3.5, "tickSize": 36, "labelFontSize": 60, "labelColor": "black", "labelPadding": 52, "labelFlush": false}},
            "x2": {"field": "x2"},
            "y": {"field": "y", "type": "quantitative", "scale": {"domain": [0.675, 33.72], "reverse": true, "nice": false, "zero": false}, "axis": null},
            "y2": {"field": "y2"}
          }
        },
        {
          "data": {"name": "leaves"},
          "mark": {"type": "text", "align": "left", "baseline": "middle", "dx": 20, "dy": 8, "fontSize": 39},
          "encoding": {
            "x": {"field": "h", "type": "quantitative", "scale": {"domain": [-25.9, 168.3], "reverse": true, "nice": false, "zero": false},
              "axis": {"values": [0, 50, 100, 150], "title": null, "domain": false, "grid": false, "tickColor": "black", "tickWidth": 3.5, "tickSize": 36, "labelFontSize": 60, "labelColor": "black", "labelPadding": 52, "labelFlush": false}},
            "y": {"field": "pos", "type": "quantitative", "scale": {"domain": [0.675, 33.72], "reverse": true, "nice": false, "zero": false}, "axis": null},
            "text": {"field": "label", "type": "nominal"},
            "color": {"field": "g", "type": "nominal", "scale": {"domain": ["Ctrl", "ROT", "ROT/Nano-PSO", "Nano-PSO/ROT"], "range": ["#00FF00", "#FF0000", "#FF00FF", "#FFA500"]}, "legend": null}
          }
        },
        {
          "data": {"values": [{"axis": "distance"}]},
          "mark": {"type": "rule", "color": "black", "strokeWidth": 3.5},
          "encoding": {
            "x": {"datum": 150, "type": "quantitative", "scale": {"domain": [-25.9, 168.3], "reverse": true, "nice": false, "zero": false},
              "axis": {"values": [0, 50, 100, 150], "title": null, "domain": false, "grid": false, "tickColor": "black", "tickWidth": 3.5, "tickSize": 36, "labelFontSize": 60, "labelColor": "black", "labelPadding": 52, "labelFlush": false}},
            "x2": {"datum": 0},
            "y": {"datum": 33.72, "type": "quantitative", "scale": {"domain": [0.675, 33.72], "reverse": true, "nice": false, "zero": false}, "axis": null}
          }
        }
      ]
    }
  ]
}
